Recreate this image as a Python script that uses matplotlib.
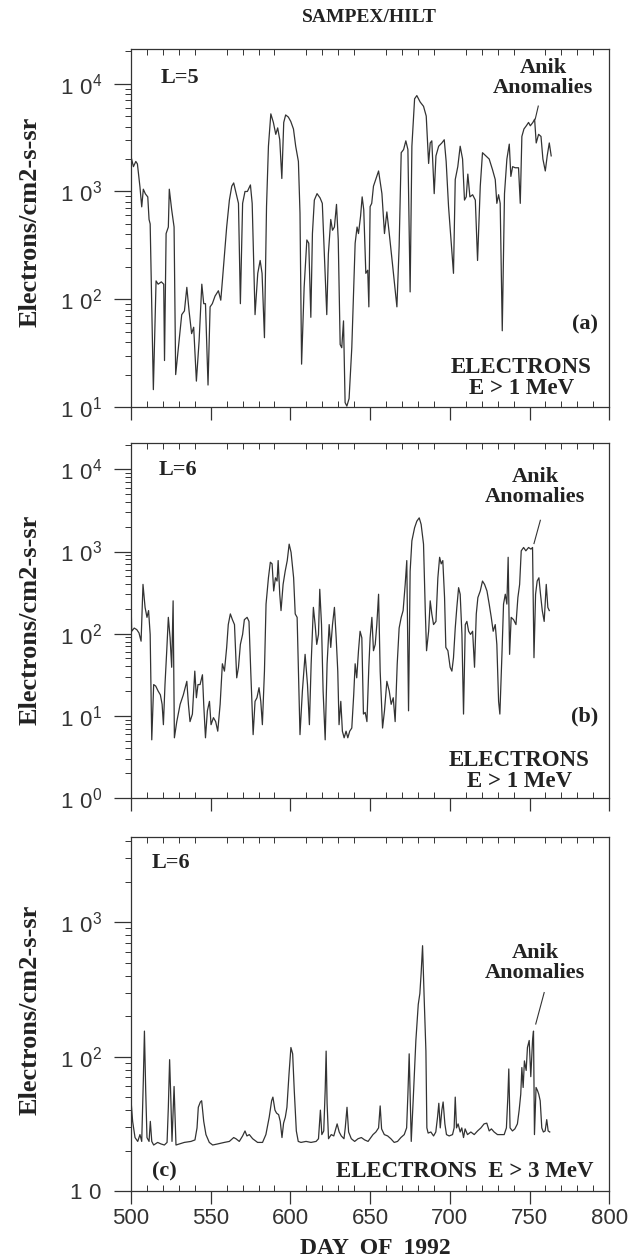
import numpy as np
import matplotlib
matplotlib.use('Agg')
import matplotlib.pyplot as plt
from matplotlib.ticker import LogLocator, MultipleLocator, NullFormatter

# Dados (dia de 1992, fluxo em electrons/cm2-s-sr)
dias_a = [500, 501.5, 503, 504, 505.6, 506.7, 507.7, 509, 510.5, 511.3, 512, 514, 515.7, 517, 519,
          520.5, 521, 522, 523.4, 524, 525.5, 527, 528, 529.7, 531.8, 533.5, 535, 536.4, 538, 539.3,
          541, 542.7, 544.4, 545.6, 546.7, 548.3, 549.6, 551, 552.7, 554.8, 556.3, 557.3, 559, 560,
          561.7, 563.2, 564.4, 566, 567.4, 568.6, 570, 571.5, 573, 574.9, 576, 577.8, 579.5, 581,
          582.2, 583.7, 585, 586.2, 587.7, 589.3, 590.8, 592, 593.3, 594.6, 595.8, 597, 598.7, 600.2,
          601.9, 603.3, 605, 606, 607, 608.6, 610.3, 611.5, 612.8, 613.8, 615, 616.7, 618.6, 620,
          621.3, 622.8, 623.8, 625.3, 626.4, 627.6, 628.9, 630, 631.2, 632.2, 633.3, 634.3, 635.4,
          636.8, 638.5, 640.6, 641.8, 642.7, 644, 645, 646, 647.3, 648.5, 649.2, 650, 651, 652.1,
          655.3, 657.4, 659, 660.5, 662, 664, 666.8, 668.2, 669.5, 671, 672.4, 673.7, 675.1, 676.2,
          677.9, 679.3, 681.4, 683.5, 685.2, 686.7, 687.7, 688.7, 690.2, 691.3, 693, 695, 696.5,
          697.7, 699.2, 700.9, 702.3, 703.4, 705, 706.5, 708, 709.2, 710.3, 711.3, 712.6, 714.3, 716,
          717.4, 719.1, 720.5, 722.6, 724.7, 726.8, 728.5, 729.5, 730.6, 731.6, 732.9, 734.3, 735.8,
          737.3, 738.3, 739.4, 741, 743.1, 744.2, 745.2, 746.5, 748, 749.4, 750.5, 752.1, 753.2,
          754.2, 755.7, 757.2, 758.4, 759.9, 761.1, 762.4, 763.6]
fluxo_a = [2100, 1700, 1900, 1800, 1100, 720, 1050, 950, 890, 550, 500, 14.5, 148, 138, 145,
           138, 27, 407, 468, 1050, 676, 468, 20, 35.5, 72, 78, 129, 78, 48, 55,
           17.4, 41, 138, 91, 91, 16, 85, 91, 107, 120, 98, 148, 309, 468,
           832, 1120, 1200, 955, 776, 91, 776, 1000, 1000, 1150, 776, 72, 174, 229,
           174, 44, 724, 2630, 5250, 4370, 3390, 3890, 3020, 1320, 4370, 5130, 4900, 4470,
           3800, 2630, 1900, 630, 25, 129, 355, 331, 68, 407, 832, 955, 871, 776,
           263, 72, 263, 550, 437, 468, 759, 355, 38, 35.5, 63, 11, 10.2,
           12, 35.5, 331, 468, 407, 589, 891, 676, 174, 186, 85, 724, 776, 1120,
           1550, 955, 407, 646, 407, 214, 85, 309, 2290, 2450, 2950, 2450, 117, 2630,
           7240, 7760, 6760, 6170, 5010, 1820, 2820, 2950, 955, 2140, 2630, 2820, 3020,
           1900, 724, 331, 174, 1290, 1700, 2630, 2000, 832, 891, 1450, 891, 933, 832,
           229, 1120, 2290, 2140, 2000, 1590, 1290, 776, 933, 776, 51, 955, 2000,
           2750, 1380, 1700, 1660, 1660, 776, 3240, 3800, 4070, 4370, 4070, 4370, 4680,
           2820, 3390, 3240, 2000, 1550, 2140, 2820, 2140]

dias_b = [500, 500.4, 502, 503.6, 505, 506.3, 507.5, 508.8, 510, 511, 512, 513, 514.2, 515.5, 517,
          518.4, 519.5, 520.3, 521.3, 522.4, 523.4, 524.5, 525.5, 526.4, 527.2, 528.7, 530.8, 532.8,
          535, 536, 537, 538.5, 540, 541, 542, 543.3, 544.8, 545.6, 546.7, 547.9, 549.2, 550.2,
          551.7, 553.1, 554.4, 555.9, 557.3, 558.6, 560, 561, 562.3, 563.6, 564.9, 566.3, 567.4,
          568.6, 570, 571.1, 572.8, 574, 575.1, 576.6, 577.8, 579, 580.3, 581.4, 582.4, 583.7,
          584.7, 586.2, 587.4, 588.5, 589.5, 590.6, 591.6, 592.3, 593.3, 594.1, 595.4, 596.7, 598,
          599.2, 600.4, 602, 603, 604.2, 605, 606, 607.5, 609.2, 610.7, 611.9, 613, 614.4, 615.5,
          616.5, 617.6, 618.4, 619.5, 620.5, 621.8, 623, 624.3, 625.3, 626.4, 627.6, 628.7, 629.7,
          630.5, 631.6, 632.6, 633.7, 634.9, 636, 637.2, 638.5, 639.7, 640.6, 641.6, 642.7, 643.7,
          644.8, 645.8, 646.9, 648, 649.2, 650, 651.1, 652.1, 653.2, 654.2, 655.3, 656.3, 657.8,
          659, 660.5, 662, 663.2, 664.5, 665.7, 667, 668.2, 669.5, 670.7, 672, 673, 674.1, 675.1,
          676.2, 677.9, 679.3, 680.8, 682, 683.5, 684.6, 685.4, 686.7, 687.7, 688.7, 689.8, 691.3,
          692.5, 693.6, 694.6, 695.6, 696.7, 697.5, 698.8, 700.2, 701.3, 702.3, 703.4, 704.4, 705.5,
          706.5, 707.6, 708.6, 709.7, 710.7, 711.8, 713, 714.3, 715.5, 716.6, 717.6, 719.1, 720.5,
          721.8, 723.3, 724.7, 726, 727.2, 728.5, 729.5, 730.6, 731.4, 732.7, 733.7, 734.8, 735.8,
          736.6, 737.5, 738.5, 740, 741.5, 742.7, 743.8, 744.8, 746.3, 747.7, 749.4, 750.9, 751.9,
          752.8, 753.8, 754.8, 755.9, 756.9, 758, 759.2, 760.5, 761.5, 762.4]
fluxo_b = [251, 107, 117, 112, 102, 81, 398, 209, 158, 191, 98, 5.1, 24, 23, 20,
           18, 13.8, 7.8, 24, 62, 158, 89, 39, 251, 5.4, 8.5, 13.8, 18,
           26.3, 13.8, 8.5, 10.5, 35, 16.6, 24, 24, 31.6, 13.8, 5.4, 11.5, 15, 7.8,
           9.5, 8.5, 6.5, 13.8, 43, 35, 68, 129, 174, 148, 129, 29, 39,
           74, 98, 148, 158, 141, 35, 5.9, 15, 16.6, 22, 15, 7.8, 35,
           229, 479, 741, 708, 331, 479, 437, 776, 302, 191, 398, 575, 776,
           1230, 977, 479, 174, 158, 35, 5.9, 20, 56, 24, 7.8, 43, 209, 129,
           74, 98, 347, 129, 20, 5.1, 43, 129, 68, 129, 209, 89, 35,
           7.8, 15, 6.5, 5.4, 6.5, 5.4, 6.5, 7.1, 18, 43, 29, 62, 107,
           89, 10.5, 11, 8.5, 40, 89, 158, 62, 74, 129, 302, 35, 7.1,
           11.5, 26.3, 20, 13.8, 16.6, 8.5, 43, 117, 158, 191, 398, 776, 11.5, 575,
           1350, 1950, 2340, 2570, 2140, 1230, 191, 62, 107, 251, 174, 129, 141,
           479, 851, 708, 776, 275, 68, 62, 39, 35, 51, 117, 209, 363,
           302, 98, 10.5, 129, 141, 107, 98, 107, 39, 174, 275, 331, 437,
           398, 331, 229, 158, 107, 129, 74, 15, 10.5, 56, 229, 302, 229,
           851, 56, 158, 148, 129, 275, 398, 1020, 1120, 1020, 1120, 1070, 1120,
           51, 302, 437, 479, 302, 191, 141, 398, 209, 191]

dias_c = [500, 501, 502.5, 504.2, 505.6, 506.7, 507.7, 508.4, 509.2, 510, 511.3, 512.1, 513, 514.2,
          516.7, 518.8, 520.9, 522.6, 523.4, 524.2, 525, 525.7, 526.3, 527, 527.6, 528.2, 530.3,
          533.4, 537.6, 540.1, 541.4, 542.2, 543.5, 544.3, 545.6, 547, 549.1, 551.2, 554.3, 558.5,
          561.7, 564.4, 565.8, 567.9, 570, 571.5, 572.7, 574.2, 576.3, 579.4, 582.5, 584.6, 586.7,
          588.2, 589, 590.3, 591.3, 592.6, 593.6, 594.7, 595.7, 596.8, 597.8, 599.1, 600.3, 601.4,
          602.4, 603.7, 604.9, 606.6, 609.8, 612.9, 616.1, 617.6, 618.8, 619.7, 620.9, 621.8, 622.4,
          623, 623.9, 625.6, 627.2, 628.1, 629.3, 630.6, 631.9, 633.6, 634.4, 635.5, 636.5, 638.2,
          640.3, 642.4, 644.5, 646.6, 648.7, 651.8, 653.6, 655.3, 656.3, 657.2, 658.9, 661, 663,
          665.1, 667.2, 669.3, 671.4, 672.9, 673.7, 674.5, 675.2, 675.8, 677, 678.7, 680.2, 681.2,
          682, 682.9, 683.9, 685, 685.6, 686.4, 688.1, 689.8, 691.2, 692.3, 693.1, 694, 695, 695.8,
          696.9, 697.9, 699.6, 701.7, 702.7, 703.4, 704.2, 705.2, 706.5, 707.5, 708.6, 709.6, 711.1,
          713.2, 715.3, 717.4, 719.5, 721.5, 723.2, 724.7, 726.1, 727.8, 729.9, 732, 734.1, 735.5,
          736.4, 737, 737.8, 739.3, 740.8, 742.4, 743.5, 744.5, 745.2, 746, 746.8, 747.9, 748.7,
          749.8, 750.8, 751.9, 752.5, 753.1, 754.1, 755, 755.8, 756.7, 757.7, 758.7, 759.8, 760.8,
          761.7, 762.7]
fluxo_c = [47, 33, 25, 23.4, 26.3, 23.4, 66, 155, 56, 25, 23.4, 33, 23.4, 22,
           23, 22.4, 22, 23, 42, 95, 47, 23.4, 37, 60, 37, 22, 22.4,
           23, 23.4, 24, 29.5, 42, 46, 47, 33, 26.3, 23, 22, 22.4, 23,
           23.4, 25, 24.5, 23.4, 25.7, 28, 25.7, 26.3, 24.5, 23, 23, 26.3, 35.5,
           47, 50, 40, 38, 37, 33, 25, 32, 35.5, 42, 74, 117, 105,
           56, 28, 23.4, 23, 23.4, 23, 23.4, 24.5, 40, 26.3, 28, 56, 110,
           45, 24.5, 26.3, 25.7, 28, 31.6, 27.5, 25.7, 24.5, 29.5, 42, 27.5, 24.5,
           23.4, 24.5, 25, 24, 23.4, 26.3, 27.5, 29.5, 43, 29, 26.3, 25.7, 24.5,
           23, 23.4, 25, 26.3, 29.5, 52.5, 105, 47, 23.4, 47, 132, 245, 295,
           417, 670, 275, 110, 29.5, 27, 27.5, 25.7, 27.5, 35.5, 45, 29.5, 40, 46,
           31.6, 26.3, 25.7, 26.3, 29.5, 50, 29.5, 31.6, 27.5, 29.5, 25, 29, 26.3,
           27.5, 26.3, 28, 29.5, 31.6, 32, 28, 29, 27.5, 26.3, 26.3, 26.3, 29.5,
           50, 81, 29.5, 28, 29, 31.6, 40, 52.5, 83, 59, 93, 79, 117,
           132, 71, 132, 155, 26.3, 59, 56, 52.5, 47, 29.5, 27.5, 28, 34,
           28, 27.5]

# Rotulos do eixo y de cada painel
ticks_a = [1e1, 1e2, 1e3, 1e4]
rotulos_a = [r'$\mathregular{1\ 0^{1}}$', r'$\mathregular{1\ 0^{2}}$',
             r'$\mathregular{1\ 0^{3}}$', r'$\mathregular{1\ 0^{4}}$']
ticks_b = [1e0, 1e1, 1e2, 1e3, 1e4]
rotulos_b = [r'$\mathregular{1\ 0^{0}}$'] + rotulos_a
ticks_c = [1e1, 1e2, 1e3]
rotulos_c = [r'$\mathregular{1\ 0}$', r'$\mathregular{1\ 0^{2}}$', r'$\mathregular{1\ 0^{3}}$']
dias_ticks = [500, 550, 600, 650, 700, 750, 800]

serif = 'Liberation Serif'
sans = 'Liberation Sans'
cor = '#333333'
plt.rcParams['mathtext.fontset'] = 'custom'
plt.rcParams['mathtext.rm'] = sans
plt.rcParams['font.family'] = sans

fig = plt.figure(figsize=(6.3, 12.59), dpi=100)

paineis = [
    ([0.208, 0.6767, 0.759, 0.2844], dias_a, fluxo_a, (10, 2.1e4), ticks_a, rotulos_a),
    ([0.208, 0.3662, 0.759, 0.2820], dias_b, fluxo_b, (1, 2.1e4), ticks_b, rotulos_b),
    ([0.208, 0.0540, 0.759, 0.2810], dias_c, fluxo_c, (10, 4300), ticks_c, rotulos_c),
]

eixos = []
for i, (pos, x, y, ylim, yt, yl) in enumerate(paineis):
    ax = fig.add_axes(pos)
    ax.plot(x, y, color=cor, lw=0.9)
    ax.set_yscale('log')
    ax.set_xlim(500, 800)
    ax.set_ylim(*ylim)
    ax.set_yticks(yt, yl)
    ax.yaxis.set_minor_locator(LogLocator(base=10, subs=np.arange(2, 10)))
    ax.yaxis.set_minor_formatter(NullFormatter())
    ax.set_xticks(dias_ticks)
    ax.xaxis.set_minor_locator(MultipleLocator(10))
    ax.tick_params(axis='y', which='major', direction='out', length=12, width=0.9,
                   pad=9, labelsize=16, colors=cor)
    ax.tick_params(axis='y', which='minor', direction='out', length=4, width=0.7, colors=cor)
    ax.tick_params(axis='x', which='major', direction='out', length=9, width=0.9,
                   pad=3, labelsize=16, colors=cor, top=False)
    ax.tick_params(axis='x', which='minor', direction='in', length=4, width=0.7,
                   colors=cor, top=True)
    if i < 2:
        ax.tick_params(axis='x', labelbottom=False)
    for s in ax.spines.values():
        s.set_color(cor)
        s.set_linewidth(0.9)
    eixos.append(ax)

ax_a, ax_b, ax_c = eixos
txt = dict(family=serif, fontweight='bold', color='#222222')

# painel (a)
ax_a.text(0.061, 0.92, 'L=5', transform=ax_a.transAxes, ha='left', va='center', fontsize=16, **txt)
ax_a.text(0.862, 0.919, 'Anik\nAnomalies', transform=ax_a.transAxes, ha='center', va='center',
          fontsize=16, linespacing=1.0, **txt)
ax_a.plot([755.5, 753.6], [6200, 4700], color=cor, lw=0.8)
ax_a.text(0.977, 0.23, '(a)', transform=ax_a.transAxes, ha='right', va='center', fontsize=16, **txt)
ax_a.text(0.816, 0.082, 'ELECTRONS\nE > 1 MeV', transform=ax_a.transAxes, ha='center',
          va='center', fontsize=16.5, linespacing=1.0, **txt)

# painel (b)
ax_b.text(0.057, 0.923, 'L=6', transform=ax_b.transAxes, ha='left', va='center', fontsize=16, **txt)
ax_b.text(0.845, 0.875, 'Anik\nAnomalies', transform=ax_b.transAxes, ha='center', va='center',
          fontsize=16, linespacing=1.0, **txt)
ax_b.plot([756.8, 752.8], [2400, 1250], color=cor, lw=0.8)
ax_b.text(0.977, 0.23, '(b)', transform=ax_b.transAxes, ha='right', va='center', fontsize=16, **txt)
ax_b.text(0.812, 0.076, 'ELECTRONS\nE > 1 MeV', transform=ax_b.transAxes, ha='center',
          va='center', fontsize=16.5, linespacing=1.0, **txt)

# painel (c)
ax_c.text(0.044, 0.927, 'L=6', transform=ax_c.transAxes, ha='left', va='center', fontsize=16, **txt)
ax_c.text(0.845, 0.645, 'Anik\nAnomalies', transform=ax_c.transAxes, ha='center', va='center',
          fontsize=16, linespacing=1.0, **txt)
ax_c.plot([759.2, 753.9], [300, 175], color=cor, lw=0.8)
ax_c.text(0.044, 0.054, '(c)', transform=ax_c.transAxes, ha='left', va='center', fontsize=16, **txt)
ax_c.text(0.967, 0.054, 'ELECTRONS  E > 3 MeV', transform=ax_c.transAxes, ha='right',
          va='center', fontsize=16.5, **txt)

# titulos e rotulos
fig.text(0.587, 0.986, 'SAMPEX/HILT', ha='center', va='center', fontsize=14, **txt)
fig.text(0.595, 0.004, 'DAY  OF  1992', ha='center', va='baseline', fontsize=17, **txt)
for yc in [1 - 222 / 1259, 1 - 620 / 1259, 1 - 1010 / 1259]:
    fig.text(0.048, yc, 'Electrons/cm2-s-sr', rotation=90, ha='center', va='center',
             fontsize=19, **txt)

plt.savefig('out.png', dpi=100)
